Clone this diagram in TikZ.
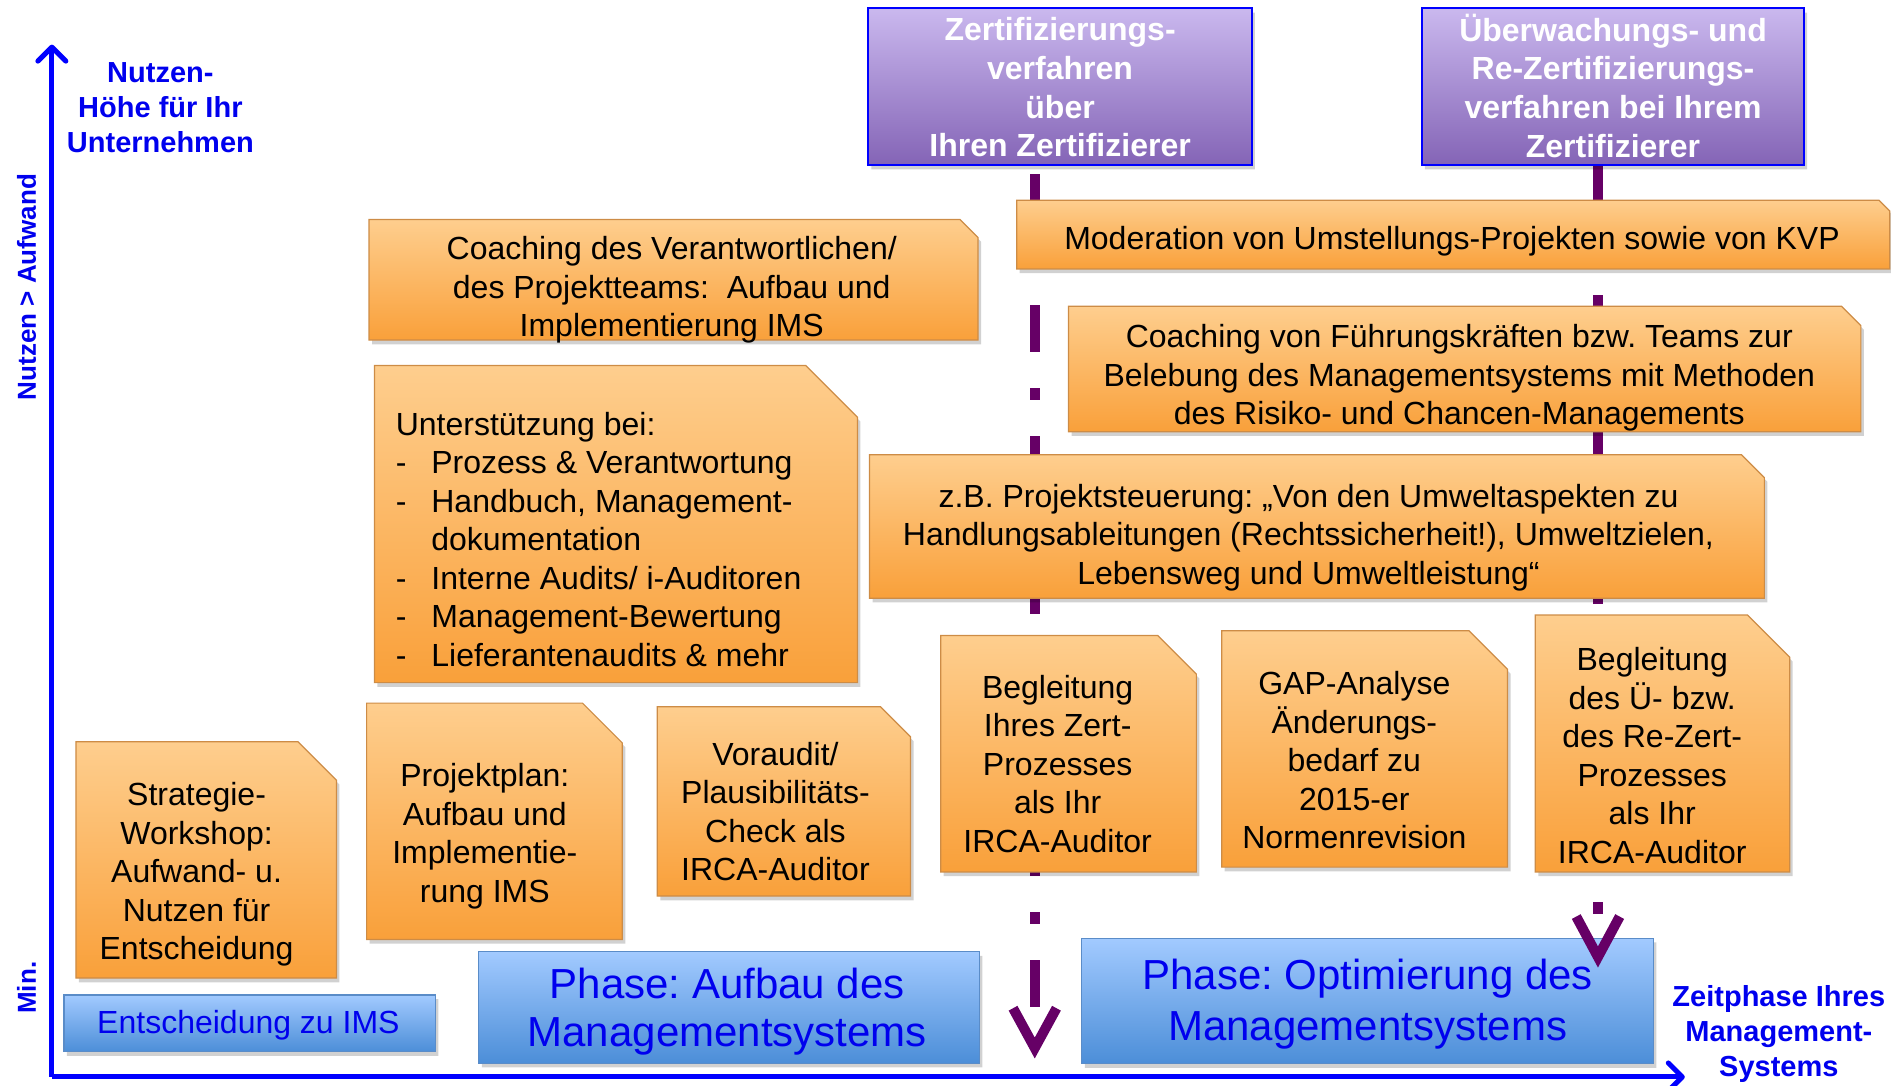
\documentclass[tikz,border=0pt]{standalone}
\usepackage{fontspec}
\setmainfont{Liberation Sans}
\usetikzlibrary{arrows.meta}
\definecolor{otop}{RGB}{254,206,142}
\definecolor{obot}{RGB}{249,160,58}
\definecolor{oline}{RGB}{205,140,70}
\definecolor{ptop}{RGB}{202,184,238}
\definecolor{pbot}{RGB}{132,100,182}
\definecolor{btop}{RGB}{162,202,255}
\definecolor{bbot}{RGB}{76,142,216}
\definecolor{bline}{RGB}{90,140,200}
\definecolor{axblue}{RGB}{0,0,255}
\definecolor{lblue}{RGB}{0,0,238}
\definecolor{purp}{RGB}{102,0,102}
\newcommand\cutshape[6]{%
  \fill[black,opacity=0.18] ({#2+2.5},{#3+3.5}) -- ({#4-#6+2.5},{#3+3.5}) -- ({#4+2.5},{#3+#6+3.5}) -- ({#4+2.5},{#5+3.5}) -- ({#2+2.5},{#5+3.5}) -- cycle;
  \path[#1] (#2,#3) -- ({#4-#6},#3) -- (#4,{#3+#6}) -- (#4,#5) -- (#2,#5) -- cycle;
}
\tikzset{
  oshape/.style={shade,top color=otop,bottom color=obot,draw=oline,line width=1.2pt},
  pshape/.style={shade,top color=ptop,bottom color=pbot,draw=axblue,line width=2pt},
  bshape/.style={shade,top color=btop,bottom color=bbot,draw=bline,line width=1.2pt},
  otext/.style={font=\fontsize{32}{38.5}\selectfont,align=center,inner sep=0pt,text=black},
  ptext/.style={font=\fontsize{32}{38.6}\selectfont\bfseries,align=center,inner sep=0pt,text=white},
  btext/.style={font=\fontsize{32}{38.5}\selectfont,align=center,inner sep=0pt,text=lblue},
  phtext/.style={font=\fontsize{42}{48}\selectfont,align=center,inner sep=0pt,text=lblue},
  axlabel/.style={font=\fontsize{29}{35}\selectfont\bfseries,align=center,inner sep=0pt,text=lblue},
  axis/.style={draw=axblue,line width=5pt,-{Straight Barb[length=14pt,width=28pt,round]}},
  tline/.style={draw=purp,line width=10pt,dash pattern=on 47pt off 36pt on 12pt off 36pt},
  chev/.style={draw=purp,line width=10pt,line join=miter,miter limit=10},
}
\begin{document}
\frenchspacing
\begin{tikzpicture}[x=1.206pt,y=-1.206pt]
\useasboundingbox (0,0) rectangle (1568,900);
% axes
\coordinate (origin) at (43,893);
\coordinate (ytop) at (43,37);
\coordinate (xend) at (1397,893);
\draw[axis] (origin) -- (ytop);
\draw[axis] (origin) -- (xend);
\node[axlabel] (nutzenH) at (133,89) {Nutzen-\\Höhe für Ihr\\Unternehmen};
\node[axlabel,font=\fontsize{26}{30}\selectfont\bfseries,rotate=90] (nua) at (22,238) {Nutzen > Aufwand};
\node[axlabel,font=\fontsize{26}{30}\selectfont\bfseries,rotate=90] (minl) at (22,819) {Min.};
\node[axlabel] (zeit) at (1475,857) {Zeitphase Ihres\\Management-\\Systems};
% timelines
\coordinate (l1top) at (858,144.3);
\coordinate (l1end) at (858,838);
\coordinate (l2top) at (1325,136);
\coordinate (l2end) at (1325,768);
\draw[tline] (l1top) -- (l1end);
\draw[tline] (l2top) -- (l2end);
% purple boxes
\cutshape{pshape}{720}{7}{1038}{137}{0}
\node[ptext] (pz1) at (879,72.5) {Zertifizierungs-\\verfahren\\über\\Ihren Zertifizierer};
\cutshape{pshape}{1179}{7}{1496}{137}{0}
\node[ptext] (pz2) at (1337.5,71) {Überwachungs- und\\Re-Zertifizierungs-\\verfahren bei Ihrem\\Zertifizierer};
% orange boxes
\cutshape{oshape}{306}{182}{811}{282}{15}
\node[otext] (coachV) at (557,240.5) {Coaching des Verantwortlichen/\\des Projektteams:\ \ Aufbau und\\Implementierung IMS};
\cutshape{oshape}{843}{166}{1567}{223}{9}
\node[otext] (moder) at (1204,200) {Moderation von Umstellungs-Projekten sowie von KVP};
\cutshape{oshape}{886}{254}{1543}{358}{16}
\node[otext] (coachF) at (1210,313.5) {Coaching von Führungskräften bzw. Teams zur\\Belebung des Managementsystems mit Methoden\\des Risiko- und Chancen-Managements};
\cutshape{oshape}{310.5}{303}{711}{566}{43}
\node[otext,align=left,anchor=west] (unt) at (328,447) {Unterstützung bei:\\\makebox[35.6pt][l]{-}Prozess \& Verantwortung\\\makebox[35.6pt][l]{-}Handbuch, Management-\\\hspace*{35.6pt}dokumentation\\\makebox[35.6pt][l]{-}Interne Audits/ i-Auditoren\\\makebox[35.6pt][l]{-}Management-Bewertung\\\makebox[35.6pt][l]{-}Lieferantenaudits \& mehr};
\cutshape{oshape}{721}{377}{1463}{496}{19}
\node[otext] (zbP) at (1085,445.5) {z.B. Projektsteuerung: „Von den Umweltaspekten zu\\Handlungsableitungen (Rechtssicherheit!), Umweltzielen,\\Lebensweg und Umweltleistung“};
\cutshape{oshape}{63}{615}{279}{811}{32}
\node[otext] (strat) at (163,725) {Strategie-\\Workshop:\\Aufwand- u.\\Nutzen für\\Entscheidung};
\cutshape{oshape}{304}{583}{516}{779}{33}
\node[otext] (projekt) at (402,693.5) {Projektplan:\\Aufbau und\\Implementie-\\rung IMS};
\cutshape{oshape}{545}{586}{755}{743}{25}
\node[otext] (vora) at (643,673) {Voraudit/\\Plausibilitäts-\\Check als\\IRCA-Auditor};
\cutshape{oshape}{780}{527}{992}{723}{32}
\node[otext] (begl1) at (877,633.5) {Begleitung\\Ihres Zert-\\Prozesses\\als Ihr\\IRCA-Auditor};
\cutshape{oshape}{1013}{523}{1250}{719}{32}
\node[otext] (gap) at (1123,630.5) {GAP-Analyse\\Änderungs-\\bedarf zu\\2015-er\\Normenrevision};
\cutshape{oshape}{1273}{510}{1484}{723}{35}
\node[otext] (begl2) at (1370,626.5) {Begleitung\\des Ü- bzw.\\des Re-Zert-\\Prozesses\\als Ihr\\IRCA-Auditor};
% blue boxes
\cutshape{bshape}{53}{825}{361}{872}{0}
\node[btext] (ents) at (206,850) {Entscheidung zu IMS};
\cutshape{bshape}{397}{789}{812}{881.5}{0}
\node[phtext] (phA) at (603,838.5) {Phase: Aufbau des\\Managementsystems};
\cutshape{bshape}{897}{778}{1371}{882}{0}
\node[phtext,font=\fontsize{42}{51}\selectfont] (phO) at (1134,833) {Phase: Optimierung des\\Managementsystems};
% chevrons
\draw[chev] (840,836) -- (858,869) -- (876,836);
\draw[chev] (1307,760) -- (1325,793.5) -- (1343,760);
\end{tikzpicture}
\end{document}
